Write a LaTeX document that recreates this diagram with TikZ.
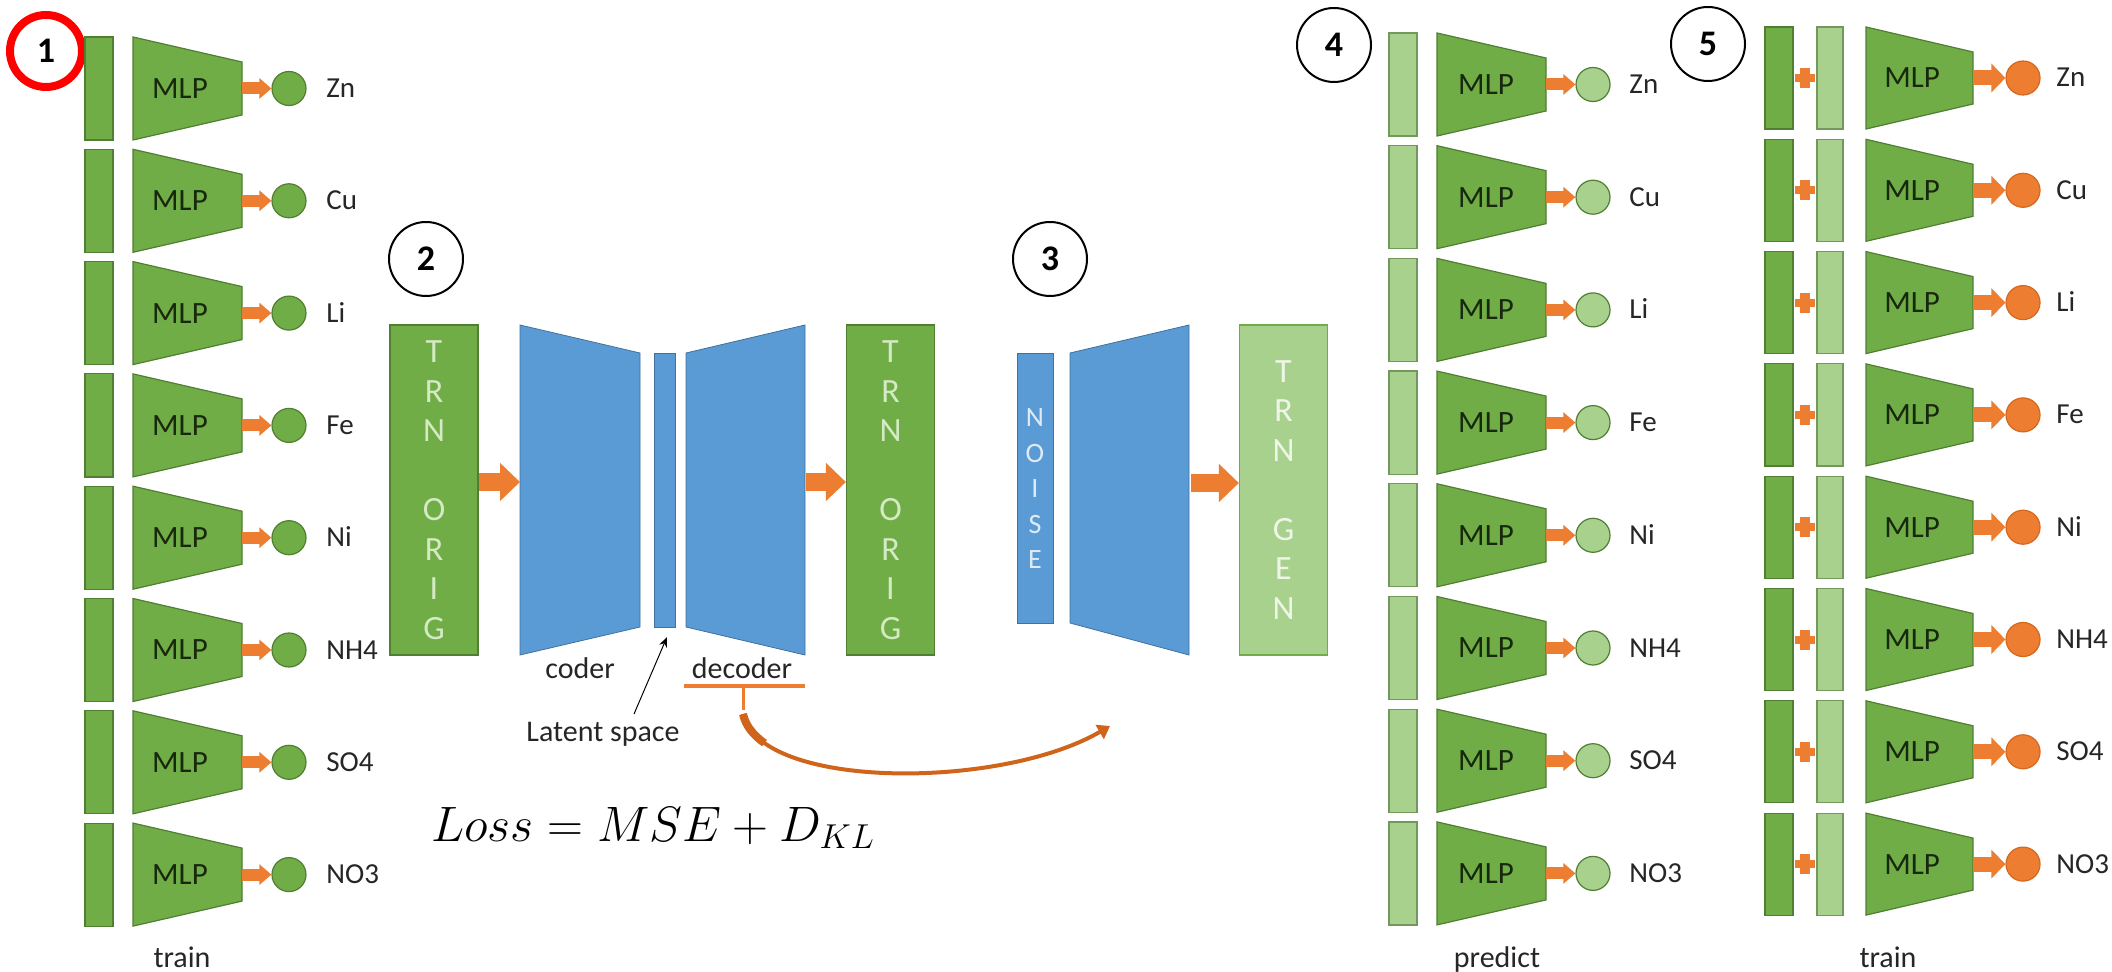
\documentclass[tikz,border=0pt]{standalone}
\usepackage[no-math]{fontspec}
\setmainfont{Carlito}
\usetikzlibrary{arrows.meta}
\definecolor{gr}{HTML}{70AD47}
\definecolor{grd}{HTML}{507E32}
\definecolor{grl}{HTML}{A9D18E}
\definecolor{bl}{HTML}{5B9BD5}
\definecolor{bld}{HTML}{41719C}
\definecolor{org}{HTML}{ED7D31}
\definecolor{orgd}{HTML}{C55A11}
\definecolor{mlpc}{HTML}{17280D}
\definecolor{txt}{HTML}{262626}
\definecolor{trnc}{HTML}{D4EAC4}
\definecolor{genc}{HTML}{EEF6E8}
\definecolor{noisec}{HTML}{DEEBF7}
\begin{document}
\begin{tikzpicture}[x=0.5pt,y=-0.5pt,
  inbar/.style={fill=gr, draw=grd, line width=0.6pt},
  lbar/.style={fill=grl, draw=grd!80, line width=0.6pt},
  mlpshape/.style={fill=gr, draw=grd, line width=0.6pt},
  mlptext/.style={font=\fontsize{15.5}{17}\selectfont, text=mlpc, inner sep=0pt},
  outc/.style={circle, minimum size=17pt, inner sep=0pt, line width=0.6pt},
  lab/.style={font=\fontsize{14.5}{16}\selectfont, text=txt, inner sep=0pt, anchor=base west},
  captxt/.style={font=\fontsize{15}{17}\selectfont, text=txt, inner sep=0pt},
  oarr/.style={draw=org, line width=6pt, -{Triangle[width=10pt,length=6pt]}},
  oarrb/.style={draw=org, line width=7.5pt, -{Triangle[width=14pt,length=7pt]}},
  barr/.style={draw=org, line width=9pt, -{Triangle[width=18.5pt,length=10pt]}},
  numc/.style={circle, draw=black, line width=1pt, minimum size=37pt, inner sep=0pt, font=\bfseries\fontsize{18}{20}\selectfont},
  tbox/.style={draw=grd, line width=0.6pt, minimum width=44pt, minimum height=165pt, inner sep=0pt, align=center, font=\fontsize{17}{19.75}\selectfont},
  bshape/.style={fill=bl, draw=bld, line width=0.4pt}
]
\useasboundingbox (0,0) rectangle (2112,972);
\fill[white] (0,0) rectangle (2112,972);

% ---------- panel 1 ----------
\node[numc] (n1) at (46,51) {1};
\draw[red, line width=4pt] (n1.center) circle[radius=18pt];
\foreach \lab [count=\i from 0] in {Zn,Cu,Li,Fe,Ni,NH4,SO4,NO3}{
  \pgfmathsetmacro\rt{37+112.3*\i}
  \pgfmathsetmacro\rb{\rt+103}
  \pgfmathsetmacro\rc{\rt+51.5}
  \draw[inbar] (85,\rt) rectangle (113,\rb);
  \draw[mlpshape] (133,\rt) -- (242,\rt+25) -- (242,\rb-25) -- (133,\rb) -- cycle;
  \node[mlptext] (pa-m\i) at (180,\rc) {MLP};
  \coordinate (pa-r\i) at (242,\rc);
  \node[outc, fill=gr, draw=grd] (pa-o\i) at (289,\rc) {};
  \node[lab] (pa-l\i) at (326,\rc+9) {\lab};
  \draw[oarr] (pa-r\i) -- (pa-o\i.west);
}
\node[captxt, anchor=base] (train1) at (182,967) {train};

% ---------- panel 2 ----------
\node[numc] (n2) at (426,259) {2};
\node[tbox, fill=gr, text=trnc] (orig1) at (434,490) {T\\R\\N\\\mbox{}\\O\\R\\I\\G};
\draw[bshape] (520,325) -- (640,353) -- (640,627) -- (520,655) -- cycle;
\draw[bshape] (654,353) rectangle (675,627);
\draw[bshape] (686,353) -- (805,325) -- (805,655) -- (686,627) -- cycle;
\coordinate (coderL) at (520,482);
\coordinate (decR) at (806,482);
\coordinate (latB) at (667,637);
\node[tbox, fill=gr, text=trnc] (orig2) at (890.5,490) {T\\R\\N\\\mbox{}\\O\\R\\I\\G};
\draw[barr] (orig1.east |- coderL) -- (coderL);
\draw[barr] (decR) -- (orig2.west |- decR);

\node[captxt] (coder) at (580,668) {coder};
\node[captxt] (decoder) at (742,668) {decoder};
\node[captxt] (latent) at (603,734) {Latent space};
\coordinate (latS) at (634,714);
\draw[line width=0.5pt, -{Stealth[length=5pt,width=4pt]}] (latS) -- (latB);

% orange underline and curved arrow
\coordinate (ulL) at (684,686);
\coordinate (ulR) at (805,686);
\coordinate (ulM) at (743,686);
\coordinate (tick) at (743,710);
\coordinate (cs) at (743,714);
\coordinate (cm) at (764.5,743.1);
\coordinate (ce) at (1110,726);
\draw[org, line width=2pt] (ulL) -- (ulR);
\draw[org, line width=1.5pt] (ulM) -- (tick);
\draw[orgd!70!org, line width=2pt, -{Triangle[width=8pt,length=6pt]}] (cs) .. controls (760,790) and (1000,790) .. (ce);
\draw[orgd!70!org, line width=4pt] (cs) .. controls (745.5,725.4) and (753.1,735.1) .. (cm);

\node[font=\fontsize{25}{30}\selectfont] (loss) at (653,828) {$Loss = MSE + D_{KL}$};

% ---------- panel 3 ----------
\node[numc] (n3) at (1050,259) {3};
\draw[bshape] (1017,353) rectangle (1053,623);
\node[text=noisec, align=center, font=\fontsize{14}{17.75}\selectfont, inner sep=0pt] (noise) at (1035,489) {N\\O\\I\\S\\E};
\draw[bshape] (1070,353) -- (1189,325) -- (1189,655) -- (1070,623) -- cycle;
\coordinate (dec3R) at (1191,483);
\node[tbox, fill=grl, draw=gr, text=genc] (gen) at (1283.5,490) {T\\R\\N\\\mbox{}\\G\\E\\N};
\draw[barr] (dec3R) -- (gen.west |- dec3R);

% ---------- panel 4 ----------
\node[numc] (n4) at (1334,45) {4};
\foreach \lab [count=\i from 0] in {Zn,Cu,Li,Fe,Ni,NH4,SO4,NO3}{
  \pgfmathsetmacro\rt{33+112.7*\i}
  \pgfmathsetmacro\rb{\rt+103}
  \pgfmathsetmacro\rc{\rt+51.5}
  \draw[lbar] (1389,\rt) rectangle (1417,\rb);
  \draw[mlpshape] (1437,\rt) -- (1546,\rt+25) -- (1546,\rb-25) -- (1437,\rb) -- cycle;
  \node[mlptext] (pd-m\i) at (1486,\rc) {MLP};
  \coordinate (pd-r\i) at (1546,\rc);
  \node[outc, fill=grl, draw=grd] (pd-o\i) at (1593,\rc) {};
  \node[lab] (pd-l\i) at (1629,\rc+9) {\lab};
  \draw[oarr] (pd-r\i) -- (pd-o\i.west);
}
\node[captxt, anchor=base] (predict) at (1497,967) {predict};

% ---------- panel 5 ----------
\node[numc] (n5) at (1708,44) {5};
\foreach \lab [count=\i from 0] in {Zn,Cu,Li,Fe,Ni,NH4,SO4,NO3}{
  \pgfmathsetmacro\rt{27+112.3*\i}
  \pgfmathsetmacro\rb{\rt+102}
  \pgfmathsetmacro\rc{\rt+51}
  \draw[inbar] (1765,\rt) rectangle (1793,\rb);
  \draw[lbar] (1817,\rt) rectangle (1843,\rb);
  \fill[org] (1795,\rc-4) rectangle (1815,\rc+4);
  \fill[org] (1800,\rc-10) rectangle (1810,\rc+10);
  \draw[mlpshape] (1866,\rt) -- (1973,\rt+25) -- (1973,\rb-25) -- (1866,\rb) -- cycle;
  \node[mlptext] (pt-m\i) at (1912,\rc) {MLP};
  \coordinate (pt-r\i) at (1973,\rc);
  \node[outc, fill=org, draw=orgd!60!org] (pt-o\i) at (2023,\rc) {};
  \node[lab] (pt-l\i) at (2056,\rc+9) {\lab};
  \draw[oarrb] (pt-r\i) -- (pt-o\i.west);
}
\node[captxt, anchor=base] (train2) at (1888,967) {train};
\end{tikzpicture}
\end{document}
